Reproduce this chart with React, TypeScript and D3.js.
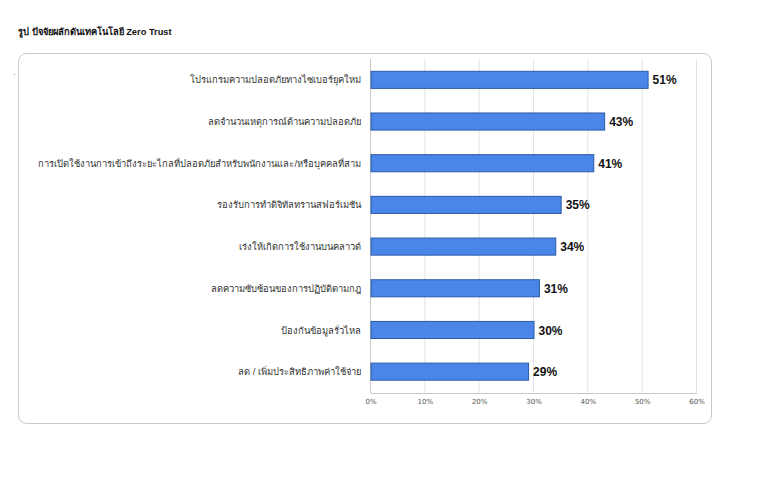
import { useEffect, useRef } from "react";
import * as d3 from "d3";

const title = "รูป ปัจจัยผลักดันเทคโนโลยี Zero Trust";

const categories = [
	"โปรแกรมความปลอดภัยทางไซเบอร์ยุคใหม่",
	"ลดจำนวนเหตุการณ์ด้านความปลอดภัย",
	"การเปิดใช้งานการเข้าถึงระยะไกลที่ปลอดภัยสำหรับพนักงานและ/หรือบุคคลที่สาม",
	"รองรับการทำดิจิทัลทรานสฟอร์เมชัน",
	"เร่งให้เกิดการใช้งานบนคลาวด์",
	"ลดความซับซ้อนของการปฏิบัติตามกฎ",
	"ป้องกันข้อมูลรั่วไหล",
	"ลด / เพิ่มประสิทธิภาพค่าใช้จ่าย",
];

const values = [51, 43, 41, 35, 34, 31, 30, 29];

const ticks = [0, 10, 20, 30, 40, 50, 60];

const App = () => {
	const svgRef = useRef<SVGSVGElement>(null);

	useEffect(() => {
		if (!svgRef.current) return;
		const width = 780;
		const height = 477;
		const svg = d3.select(svgRef.current);
		svg.selectAll("*").remove();

		const font = "Arial, 'Liberation Sans', sans-serif";

		// titre
		svg
			.append("text")
			.attr("x", 18)
			.attr("y", 35)
			.attr("font-family", font)
			.attr("font-size", 9.3)
			.attr("font-weight", "bold")
			.attr("fill", "#111")
			.text(title);

		svg
			.append("rect")
			.attr("x", 14)
			.attr("y", 74)
			.attr("width", 1)
			.attr("height", 1)
			.attr("fill", "#888");

		// cadre
		svg
			.append("rect")
			.attr("x", 18.5)
			.attr("y", 53.5)
			.attr("width", 693)
			.attr("height", 370)
			.attr("rx", 8)
			.attr("fill", "#fff")
			.attr("stroke", "#c8c8c8");

		const x = d3.scaleLinear().domain([0, 60]).range([370.5, 696.5]);
		const y = d3
			.scaleBand<string>()
			.domain(categories)
			.range([59, 392.5])
			.paddingInner(0.59)
			.paddingOuter(0.295);

		// grille
		svg
			.append("g")
			.selectAll("line")
			.data(ticks.slice(1))
			.enter()
			.append("line")
			.attr("x1", (d) => x(d))
			.attr("x2", (d) => x(d))
			.attr("y1", 59)
			.attr("y2", 392.5)
			.attr("stroke", "#e2e2e2");

		// axe X
		const xAxis = d3
			.axisBottom(x)
			.tickValues(ticks)
			.tickSize(0)
			.tickPadding(6)
			.tickFormat((d) => `${d}%`);

		const gx = svg
			.append("g")
			.attr("transform", "translate(0, 393)")
			.call(xAxis);
		gx.select(".domain").attr("stroke", "#c8c8c8");
		gx.selectAll("text")
			.attr("font-family", "'DejaVu Sans', sans-serif")
			.attr("font-size", 7)
			.attr("fill", "#555");

		svg
			.append("line")
			.attr("x1", x(0))
			.attr("x2", x(0))
			.attr("y1", 59)
			.attr("y2", 393)
			.attr("stroke", "#c8c8c8");

		// barres
		svg
			.append("g")
			.selectAll("rect")
			.data(values)
			.enter()
			.append("rect")
			.attr("x", x(0) + 0.5)
			.attr("y", (_d, i) => y(categories[i]) as number)
			.attr("width", (d) => x(d) - x(0))
			.attr("height", y.bandwidth())
			.attr("fill", "#4a86e8")
			.attr("stroke", "#2c5aa8")
			.attr("stroke-width", 1);

		// étiquettes de valeur
		svg
			.append("g")
			.selectAll("text")
			.data(values)
			.enter()
			.append("text")
			.attr("x", (d) => x(d) + 5)
			.attr("y", (_d, i) => (y(categories[i]) as number) + y.bandwidth() / 2)
			.attr("dy", "0.38em")
			.attr("font-family", font)
			.attr("font-size", 12)
			.attr("font-weight", "bold")
			.attr("fill", "#111")
			.text((d) => `${d}%`);

		// catégories
		svg
			.append("g")
			.selectAll("text")
			.data(categories)
			.enter()
			.append("text")
			.attr("x", 361)
			.attr("y", (d) => (y(d) as number) + y.bandwidth() / 2)
			.attr("dy", "0.38em")
			.attr("text-anchor", "end")
			.attr("font-family", font)
			.attr("font-size", 9.4)
			.attr("fill", "#333")
			.text((d) => d);

		svg.attr("width", width).attr("height", height);
	}, []);

	return (
		<svg
			ref={svgRef}
			width={780}
			height={477}
			style={{ position: "absolute", left: 0, top: 0, background: "#fff" }}
		></svg>
	);
};

export default App;
